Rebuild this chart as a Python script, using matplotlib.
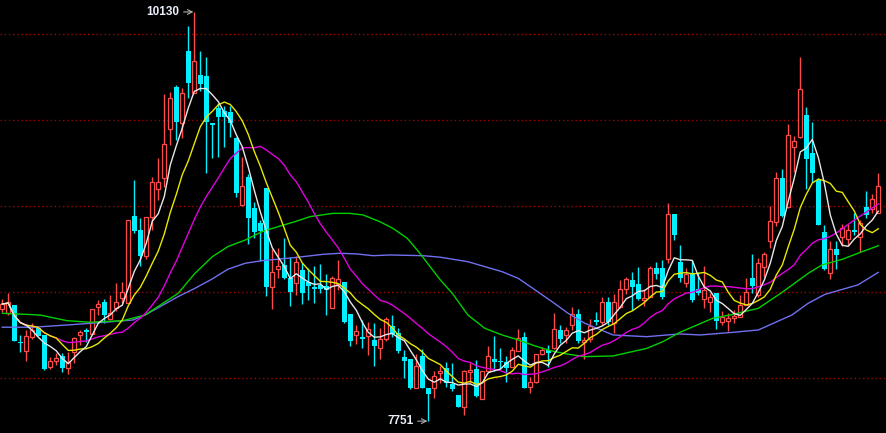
import numpy as np
import pandas as pd
import matplotlib
matplotlib.use("Agg")
import matplotlib.pyplot as plt

# daily candles (open, high, low, close)
opens = [8401, 8378, 8426, 8209, 8161, 8242, 8295, 8252, 8068, 8101,
         8130, 8058, 8151, 8252, 8281, 8258, 8413, 8442, 8345, 8407,
         8465, 8436, 8944, 8862, 8713, 8940, 9098, 9163, 9448, 9692,
         9486, 9903, 9661, 9764, 9758, 9483, 9574, 9554, 9546, 9399,
         9008, 9169, 8992, 8901, 9105, 8533, 8634, 8659, 8581, 8556,
         8630, 8562, 8529, 8543, 8539, 8407, 8548, 8562, 8372, 8252,
         8238, 8246, 8223, 8178, 8227, 8304, 8265, 8122, 8110, 7946,
         8130, 7946, 7946, 8033, 8058, 7967, 7903, 7835, 8039, 8054,
         7878, 8043, 8112, 8103, 8097, 8068, 8161, 8238, 7948, 7977,
         8140, 8165, 8174, 8281, 8252, 8310, 8374, 8209, 8227, 8339,
         8329, 8446, 8324, 8417, 8517, 8572, 8547, 8455, 8475, 8640,
         8640, 8692, 8953, 8678, 8552, 8610, 8517, 8459, 8442, 8494,
         8329, 8335, 8349, 8355, 8426, 8581, 8485, 8649, 8800, 8911,
         9163, 8998, 9347, 9401, 9531, 9308, 9153, 8848, 8614, 8750,
         8820, 8808, 8862, 8820, 8994, 8985, 8959]
highs = [8461, 8494, 8426, 8252, 8281, 8320, 8295, 8252, 8122, 8145,
         8145, 8155, 8242, 8281, 8291, 8401, 8455, 8461, 8484, 8552,
         8562, 8920, 9153, 8930, 8940, 9172, 9279, 9651, 9667, 9705,
         9686, 10048, 10130, 9903, 9866, 9487, 9599, 9583, 9583, 9405,
         9285, 9188, 9027, 8921, 9105, 8750, 8756, 8814, 8707, 8711,
         8669, 8640, 8653, 8665, 8607, 8595, 8688, 8562, 8372, 8310,
         8339, 8329, 8324, 8291, 8359, 8368, 8291, 8165, 8110, 8140,
         8169, 7946, 8043, 8072, 8097, 8087, 7903, 8048, 8091, 8107,
         8043, 8188, 8246, 8174, 8130, 8180, 8285, 8267, 8006, 8140,
         8184, 8194, 8378, 8310, 8300, 8417, 8401, 8242, 8343, 8384,
         8471, 8475, 8488, 8572, 8591, 8620, 8649, 8517, 8653, 8678,
         8688, 9017, 8953, 8775, 8640, 8688, 8620, 8653, 8494, 8494,
         8393, 8378, 8397, 8484, 8581, 8723, 8698, 8736, 9002, 9202,
         9215, 9479, 9409, 9866, 9575, 9488, 9163, 8891, 8800, 8800,
         8897, 8897, 8959, 8921, 9089, 9072, 9196]
lows = [8388, 8368, 8219, 8155, 8103, 8227, 8246, 8048, 8054, 8078,
        8039, 8023, 8087, 8194, 8213, 8258, 8368, 8324, 8339, 8393,
        8440, 8436, 8847, 8655, 8694, 8862, 9037, 9114, 9357, 9386,
        9395, 9628, 9657, 9672, 9196, 9279, 9285, 9347, 9405, 9052,
        9002, 8779, 8814, 8684, 8481, 8401, 8581, 8576, 8420, 8485,
        8432, 8455, 8440, 8494, 8368, 8407, 8514, 8324, 8190, 8200,
        8174, 8136, 8072, 8112, 8219, 8238, 8145, 8000, 7936, 7942,
        7942, 7751, 7888, 7975, 7952, 7928, 7831, 7787, 7975, 7893,
        7878, 8043, 8045, 8052, 7981, 8068, 8157, 7942, 7917, 7971,
        8136, 8068, 8168, 8203, 8207, 8281, 8207, 8110, 8213, 8310,
        8310, 8310, 8262, 8411, 8490, 8397, 8455, 8420, 8475, 8576,
        8459, 8669, 8804, 8562, 8533, 8446, 8485, 8407, 8388, 8285,
        8310, 8277, 8324, 8355, 8426, 8494, 8475, 8591, 8756, 8886,
        8940, 8988, 9202, 9395, 9098, 9144, 8891, 8630, 8576, 8636,
        8769, 8776, 8833, 8736, 8930, 8959, 8959]
closes = [8432, 8442, 8219, 8203, 8246, 8281, 8246, 8052, 8101, 8120,
          8058, 8093, 8233, 8271, 8267, 8401, 8430, 8368, 8378, 8446,
          8504, 8920, 8859, 8711, 8936, 9139, 9139, 9360, 9628, 9492,
          9657, 9719, 9845, 9711, 9492, 9475, 9521, 9521, 9486, 9079,
          9120, 8930, 8853, 8859, 8533, 8620, 8653, 8585, 8504, 8678,
          8494, 8539, 8517, 8517, 8514, 8581, 8576, 8329, 8219, 8275,
          8227, 8285, 8190, 8227, 8345, 8258, 8161, 8103, 7946, 8072,
          7946, 7909, 8014, 8043, 7975, 7936, 7835, 8043, 8048, 7899,
          8043, 8132, 8097, 8095, 8062, 8165, 8233, 7946, 7977, 8140,
          8165, 8145, 8285, 8227, 8281, 8374, 8219, 8223, 8306, 8329,
          8446, 8329, 8446, 8517, 8576, 8529, 8459, 8465, 8640, 8607,
          8471, 8953, 8833, 8581, 8607, 8455, 8494, 8514, 8471, 8335,
          8359, 8349, 8362, 8426, 8504, 8537, 8669, 8721, 8915, 9163,
          8944, 9415, 9380, 9680, 9273, 9196, 8891, 8636, 8750, 8717,
          8872, 8862, 8848, 8901, 8950, 9041, 9120]

# long moving averages (candle index, value)
ma60_idx = [0, 6.3, 10.8, 14.6, 20.1, 23.8, 29.3, 32.1, 35.0, 37.6, 40.5,
            43.3, 46.0, 48.8, 51.3, 55.1, 57.9, 60.1, 62.9, 65.1, 67.5,
            69.6, 71.3, 73.0, 75.0, 77.6, 80.4, 83.3, 86.0, 88.8, 91.6,
            94.3, 97.1, 101.8, 107.4, 110.1, 112.9, 115.8, 118.4, 121.3,
            126.0, 129.9, 134.3, 136.6, 140.0, 142.6, 146.0]
ma60 = [8378, 8368, 8335, 8326, 8335, 8368, 8494, 8610, 8707, 8766, 8804,
        8853, 8882, 8911, 8940, 8959, 8959, 8950, 8911, 8872, 8814,
        8727, 8649, 8572, 8494, 8368, 8291, 8252, 8223, 8188, 8159,
        8140, 8126, 8130, 8174, 8213, 8267, 8310, 8349, 8368,
        8407, 8498, 8610, 8659, 8692, 8727, 8771]
ma120_idx = [0, 5.1, 10.8, 16.3, 21.8, 23.8, 29.3, 32.1, 35.0, 37.6, 40.5,
             43.3, 48.8, 53.5, 56.3, 59.1, 61.8, 64.6, 70.1, 73.0, 77.6,
             83.3, 86.0, 88.8, 91.6, 94.3, 97.1, 101.8, 107.4, 112.9,
             116.3, 121.3, 126.0, 131.6, 134.3, 137.1, 142.6, 146.0]
ma120 = [8297, 8297, 8310, 8324, 8339, 8368, 8475, 8523, 8578, 8634, 8669,
         8684, 8702, 8721, 8727, 8723, 8713, 8717, 8713, 8704, 8678,
         8620, 8581, 8514, 8446, 8378, 8320, 8252, 8242, 8258,
         8252, 8266, 8281, 8368, 8436, 8488, 8543, 8616]

hi_label = "10130"
lo_label = "7751"

UP = "#ff4a4a"
DOWN = "#00f0ff"

fig = plt.figure(figsize=(8.87, 4.33), dpi=100, facecolor="black")
ax = fig.add_axes([0, 0, 1, 1])
ax.set_facecolor("black")

o = np.array(opens)
h = np.array(highs)
l = np.array(lows)
c = np.array(closes)
x = np.arange(len(c))
up = c >= o

# grid lines
for lvl in [8000, 8500, 9000, 9500, 10000]:
    ax.axhline(lvl, color="#a00000", lw=1, ls=(0, (1, 2)), zorder=0)

# wicks
top = np.maximum(o, c)
bot = np.minimum(o, c)
ax.vlines(x[up], top[up], h[up], color=UP, lw=1, zorder=1)
ax.vlines(x[up], l[up], bot[up], color=UP, lw=1, zorder=1)
ax.vlines(x[~up], l[~up], h[~up], color=DOWN, lw=1, zorder=1)

# bodies
ax.bar(x[up], np.maximum(top[up] - bot[up], 4), bottom=bot[up], width=0.66,
       facecolor="black", edgecolor=UP, linewidth=0.9, zorder=2)
ax.bar(x[~up], np.maximum(top[~up] - bot[~up], 6), bottom=bot[~up], width=0.8,
       color=DOWN, linewidth=0, zorder=2)

# moving averages
cs = pd.Series(closes)
ma5 = cs.rolling(5, min_periods=1).mean()
ma10 = cs.rolling(10, min_periods=1).mean()
ma20 = cs.rolling(20, min_periods=1).mean()
ax.plot(ma120_idx, ma120, color="#7070f0", lw=1, zorder=3)
ax.plot(ma60_idx, ma60, color="#00d000", lw=1, zorder=3)
ax.plot(x, ma20, color="#e000e0", lw=1, zorder=3)
ax.plot(x, ma10, color="#e8e800", lw=1, zorder=3)
ax.plot(x, ma5, color="#e8e8e8", lw=1, zorder=3)

# extreme labels
ihi = int(np.argmax(h))
ilo = int(np.argmin(l))
for i, val, txt in [(ihi, h[ihi], hi_label), (ilo, l[ilo], lo_label)]:
    ax.annotate(txt, xy=(i - 0.15, val), xytext=(-10, 0),
                textcoords="offset points", ha="right", va="center",
                color="#e8eef8", fontsize=8.5, fontweight="bold",
                family="Liberation Sans",
                arrowprops=dict(arrowstyle="->", color="#b0b0b0", lw=0.8,
                                shrinkA=1, shrinkB=0), zorder=5)

ax.set_xlim(-0.38, 147.45)
ax.set_ylim(7682, 10199.5)
ax.axis("off")

fig.savefig("out.png", dpi=100, facecolor="black")
